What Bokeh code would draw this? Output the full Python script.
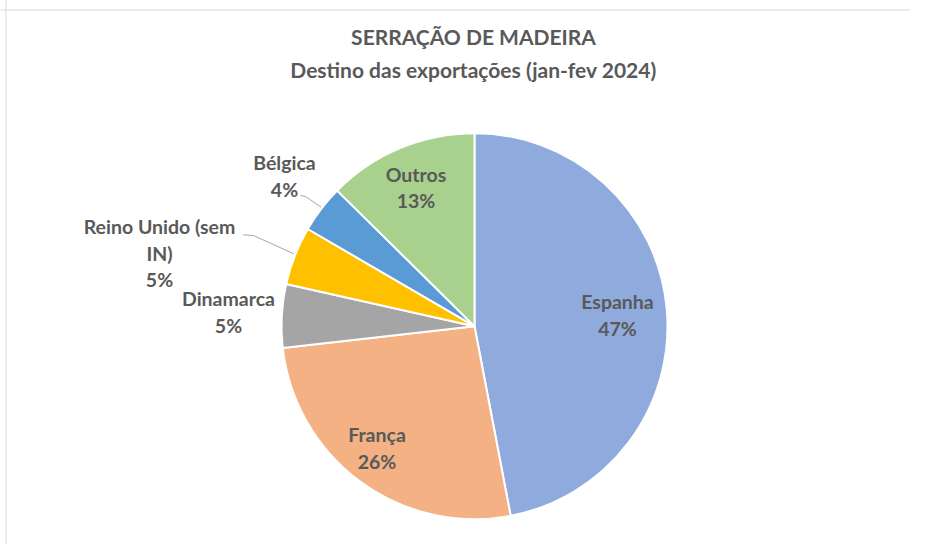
import math
from bokeh.plotting import figure
from bokeh.models import Range1d, Span
from bokeh.embed import file_html
from bokeh.resources import INLINE
from bokeh.core.properties import value

# ---- data ----
categories = ["Espanha", "França", "Dinamarca", "Reino Unido (sem IN)", "Bélgica", "Outros"]
shares = [47.0, 26.2, 5.3, 4.9, 4.0, 12.6]
colors = ["#8FAADC", "#F4B183", "#A5A5A5", "#FFC000", "#5B9BD5", "#A9D18E"]
title_lines = ["SERRAÇÃO DE MADEIRA", "Destino das exportações (jan-fev 2024)"]

# ---- layout (target picture pixel coordinates) ----
W, H = 910, 544
TEXT_DY = 8  # observed vertical offset of rendered text baselines

def X(px):
    return px
def Y(py):
    return H - py
def YT(py):
    return H - py + TEXT_DY

center_page = (474, 325.7)
radius = 193
# first-line anchor (center x, baseline y) for each label
label_anchor = {
    "Espanha": (617, 309),
    "França": (376.5, 442),
    "Dinamarca": (228, 306),
    "Reino Unido (sem IN)": (159, 234),
    "Bélgica": (284, 170),
    "Outros": (415.5, 181.7),
}
label_wrap = {"Reino Unido (sem IN)": ["Reino Unido (sem", "IN)"]}
line_step = 26.5
leaders = [
    [(300, 195), (305, 196), (320.7, 206.7)],
    [(242.7, 234.3), (253, 235), (293.3, 253.3)],
]
FONT = "Lato"
TXT = "#595959"

p = figure(width=W, height=H, x_range=Range1d(0, W), y_range=Range1d(0, H),
           output_backend="svg", toolbar_location=None, min_border=0)
p.axis.visible = False
p.grid.visible = False
p.outline_line_color = None
p.background_fill_color = "white"
p.border_fill_color = "white"

# chart-area frame (top and left edges visible)
p.add_layout(Span(location=Y(9.5), dimension="width", line_color="#d9d9d9", line_width=1))
p.add_layout(Span(location=X(5.5), dimension="height", line_color="#d9d9d9", line_width=1))

# wedges
total = sum(shares)
cum = 0.0
starts, ends = [], []
for s in shares:
    a0 = math.pi / 2 - 2 * math.pi * cum / total
    cum += s
    a1 = math.pi / 2 - 2 * math.pi * cum / total
    starts.append(a0)
    ends.append(a1)

p.wedge(x=[X(center_page[0])] * len(shares), y=[Y(center_page[1])] * len(shares),
        radius=radius, radius_units="data",
        start_angle=starts, end_angle=ends, direction="clock",
        fill_color=colors, line_color="white", line_width=2)

# leader lines
for pts in leaders:
    p.line([X(a) for a, b in pts], [Y(b) for a, b in pts], line_color="#A6A6A6", line_width=1)

# data labels
xs, ys, txts = [], [], []
for cat, s in zip(categories, shares):
    lines = label_wrap.get(cat, [cat]) + [f"{round(s)}%"]
    ax, ay = label_anchor[cat]
    for i, t in enumerate(lines):
        xs.append(X(ax))
        ys.append(YT(ay + i * line_step))
        txts.append(t)
p.text(x=xs, y=ys, text=txts, text_font=value(FONT), text_font_style="bold",
       text_font_size="19.5px", text_color=TXT, text_align="center", text_baseline="alphabetic")

# title
p.text(x=[X(473), X(473)], y=[YT(44), YT(76.5)], text=title_lines,
       text_font=value(FONT), text_font_style="bold", text_font_size="21px",
       text_color=TXT, text_align="center", text_baseline="alphabetic")

open("out.html", "w").write(file_html(p, INLINE))
